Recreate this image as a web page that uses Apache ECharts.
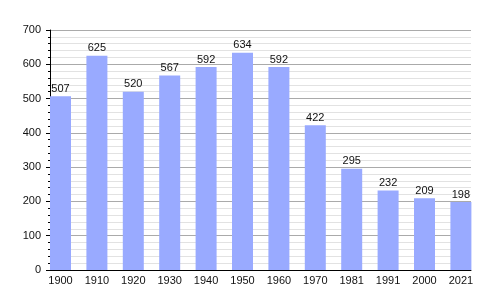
<!DOCTYPE html>
<html><head><meta charset="utf-8">
<script src="https://cdn.jsdelivr.net/npm/echarts@6/dist/echarts.min.js"></script>
<style>html,body{margin:0;padding:0;background:#fff}#c{width:500px;height:300px}</style>
</head><body><div id="c"></div>
<script>
const categories = ['1900','1910','1920','1930','1940','1950','1960','1970','1981','1991','2000','2021'];
const population = [507,625,520,567,592,634,592,422,295,232,209,198];
const yTicks = {min:0, max:700, step:100};

const chart = echarts.init(document.getElementById('c'), null, {renderer:'canvas'});
const font = 'Liberation Sans, Arial, sans-serif';
chart.setOption({
  animation:false,
  grid:[
    {left:50, right:29, top:30, bottom:30},
    {left:42.3, width:436.8, top:30, bottom:30}
  ],
  xAxis:[
    {gridIndex:0, type:'value', min:0, max:1, axisLabel:{show:false}, axisTick:{show:false},
     splitLine:{show:false}, axisLine:{show:true, lineStyle:{color:'#000', width:1}}},
    {gridIndex:1, type:'category', data:categories, axisLine:{show:false}, axisTick:{show:false},
     axisLabel:{color:'#111', fontSize:11, fontFamily:font, margin:5}}
  ],
  yAxis:[
    {gridIndex:0, type:'value', min:yTicks.min, max:yTicks.max, interval:yTicks.step,
     axisLine:{show:true, lineStyle:{color:'#000'}},
     axisTick:{show:true, length:4, lineStyle:{color:'#000'}},
     minorTick:{show:true, splitNumber:5, length:2, lineStyle:{color:'#000'}},
     splitLine:{show:true, lineStyle:{color:'#aaa'}},
     minorSplitLine:{show:true, lineStyle:{color:'#e2e2e2'}},
     axisLabel:{color:'#111', fontSize:11, fontFamily:font, margin:9}},
    {gridIndex:1, type:'value', min:yTicks.min, max:yTicks.max, show:false}
  ],
  series:[{
    type:'bar', xAxisIndex:1, yAxisIndex:1, data:population, barWidth:21,
    itemStyle:{color:'#99aaff'},
    label:{show:true, position:'top', distance:2, color:'#111', fontSize:11, fontFamily:font}
  }]
});
</script></body></html>
